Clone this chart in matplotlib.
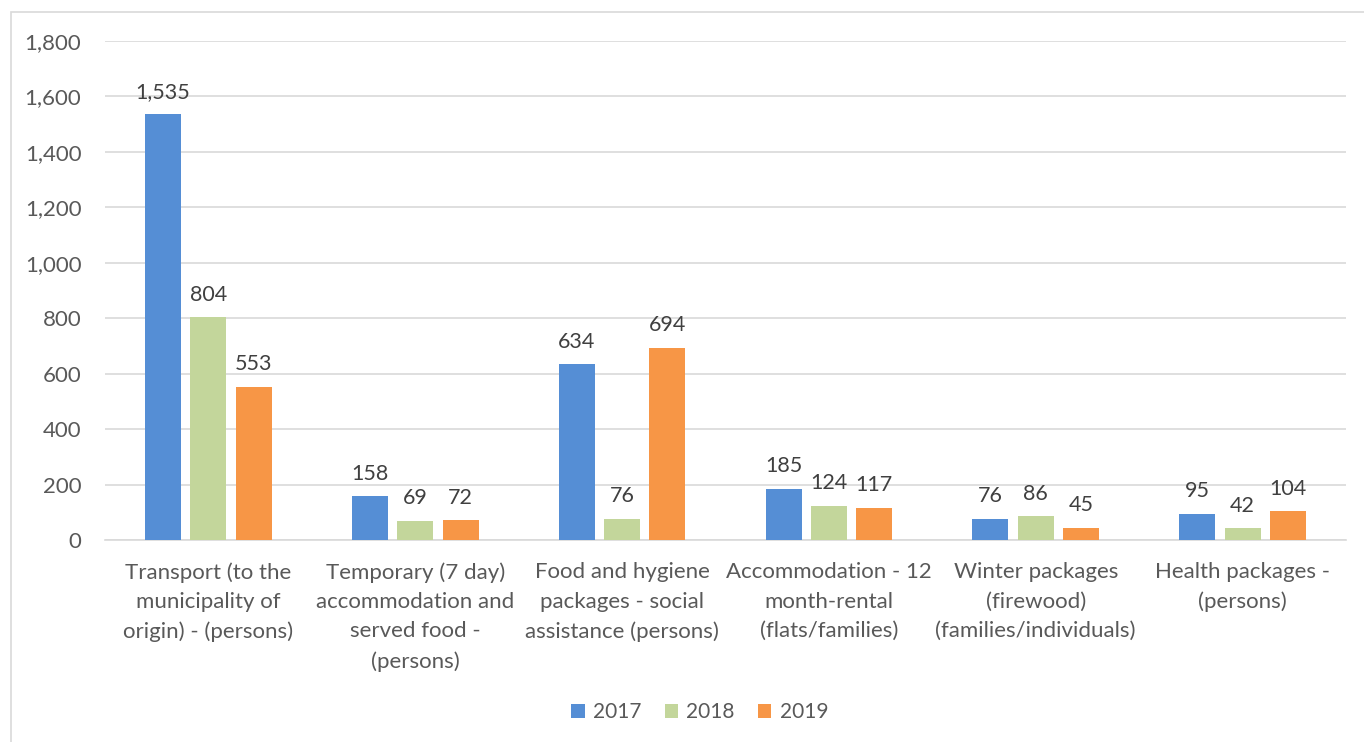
import matplotlib.pyplot as plt
import numpy as np
from matplotlib.patches import Rectangle

# ------------------------------
# Data
# ------------------------------
categories = [
    "Transport (to the\nmunicipality of\norigin) - (persons)",
    "Temporary (7 day)\naccommodation and\nserved food -\n(persons)",
    "Food and hygiene\npackages - social\nassistance (persons)",
    "Accommodation - 12\nmonth-rental\n(flats/families)",
    "Winter packages\n(firewood)\n(families/individuals)",
    "Health packages -\n(persons)",
]
years = ["2017", "2018", "2019"]
v2017 = [1535, 158, 634, 185, 76, 95]
v2018 = [804, 69, 76, 124, 86, 42]
v2019 = [553, 72, 694, 117, 45, 104]
yticks = [0, 200, 400, 600, 800, 1000, 1200, 1400, 1600, 1800]

colors = ["#558ED5", "#C3D69B", "#F79646"]
text_col = "#595959"
plt.rcParams["font.family"] = ["Lato", "DejaVu Sans"]

# ------------------------------
# Plot
# ------------------------------
fig = plt.figure(figsize=(13.64, 7.42), dpi=100)
ax = fig.add_axes([105 / 1364, 1 - 540 / 742, 1241 / 1364, 499 / 742])

x = np.arange(len(categories))
w = 0.174
step = 0.219
for i, (vals, col, yr) in enumerate(zip([v2017, v2018, v2019], colors, years)):
    bars = ax.bar(x + (i - 1) * step, vals, width=w, color=col, label=yr, zorder=3)
    for b, v in zip(bars, vals):
        ax.annotate(f"{v:,}", (b.get_x() + b.get_width() / 2, v),
                    xytext=(0, 9), textcoords="offset points",
                    ha="center", va="bottom", fontsize=15.5, color="#404040")

ax.set_xlim(-0.5, len(categories) - 0.5)
ax.set_ylim(0, 1800)
ax.set_yticks(yticks)
ax.set_yticklabels([f"{t:,}" for t in yticks], fontsize=16, color=text_col)
ax.set_xticks(x)
ax.set_xticklabels(categories, fontsize=16, color=text_col, linespacing=1.58)
ax.tick_params(axis="both", length=0)
ax.tick_params(axis="y", pad=17)
ax.tick_params(axis="x", pad=16)
ax.grid(axis="y", color="#D9D9D9", linewidth=1.2, zorder=0)
for s in ["top", "right", "left"]:
    ax.spines[s].set_visible(False)
ax.spines["bottom"].set_color("#D9D9D9")
ax.spines["bottom"].set_linewidth(1.2)

fig.legend(loc="center", bbox_to_anchor=(0.513, 1 - 712 / 742), ncol=3,
           frameon=False, fontsize=15, handlelength=0.65, handleheight=0.65,
           columnspacing=1.1, handletextpad=0.4, labelcolor=text_col)

# light outer border
fig.patches.append(Rectangle((11 / 1364, -0.05), 1.2, 1 - 12 / 742 + 0.05,
                             transform=fig.transFigure, fill=False,
                             edgecolor="#D9D9D9", linewidth=1.2))

fig.savefig("out.png", dpi=100)
